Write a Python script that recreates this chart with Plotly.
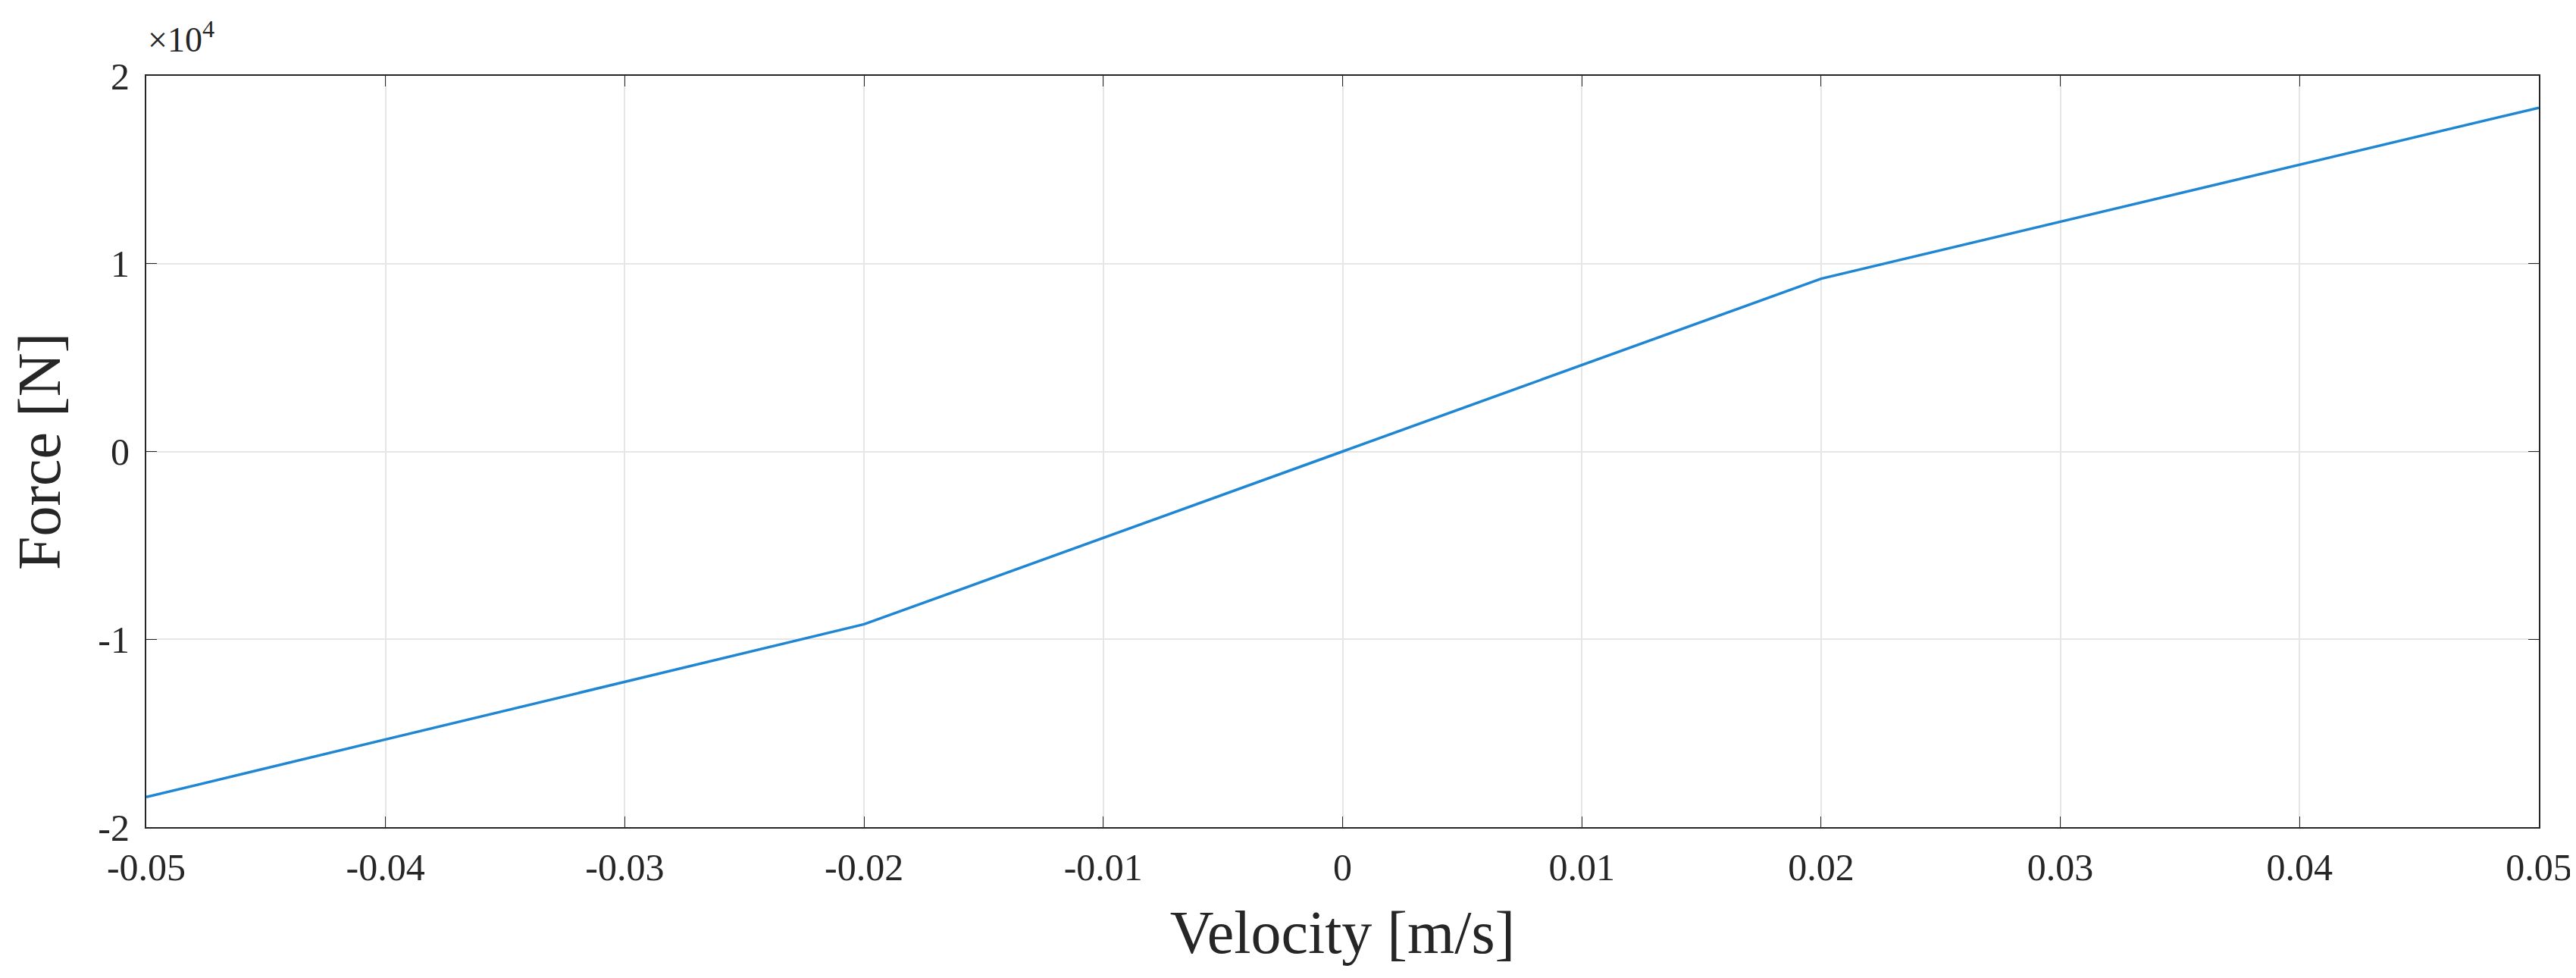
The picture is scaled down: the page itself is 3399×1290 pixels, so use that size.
import plotly.graph_objects as go

velocity = [-0.05, -0.02, 0.0, 0.02, 0.05]
force = [-18400, -9200, 0, 9200, 18300]
x_ticks = [-0.05, -0.04, -0.03, -0.02, -0.01, 0, 0.01, 0.02, 0.03, 0.04, 0.05]
x_labels = ["-0.05", "-0.04", "-0.03", "-0.02", "-0.01", "0", "0.01", "0.02", "0.03", "0.04", "0.05"]
y_ticks = [-20000, -10000, 0, 10000, 20000]
y_labels = ["-2", "-1", "0", "1", "2"]

font = "Liberation Serif"

fig = go.Figure()
fig.add_trace(go.Scatter(x=velocity, y=force, mode="lines",
                         line=dict(color="#1f86d3", width=3.5), showlegend=False))

axis_common = dict(showline=True, linecolor="#262626", linewidth=2, mirror="ticks",
                   ticks="inside", ticklen=14, tickcolor="#262626",
                   showgrid=True, gridcolor="#e6e6e6", gridwidth=2, zeroline=False,
                   tickfont=dict(family=font, size=50, color="#262626"))

fig.update_xaxes(range=[-0.05, 0.05], tickvals=x_ticks, ticktext=x_labels, ticklabelstandoff=8,
                 title=dict(text="Velocity [m/s]", font=dict(family=font, size=80, color="#262626"),
                            standoff=30), **axis_common)
fig.update_yaxes(range=[-20000, 20000], tickvals=y_ticks, ticktext=y_labels, ticklabelstandoff=10,
                 title=dict(text="Force [N]", font=dict(family=font, size=80, color="#262626"),
                            standoff=50), **axis_common)

fig.add_annotation(text="×10<sup>4</sup>", xref="paper", yref="paper", x=0, y=1.02,
                   xanchor="left", yanchor="bottom", showarrow=False,
                   font=dict(family=font, size=46, color="#262626"))

fig.update_layout(width=3399, height=1290, plot_bgcolor="white", paper_bgcolor="white",
                  margin=dict(l=185, r=57, t=92, b=207))

fig.write_html("out.html")
